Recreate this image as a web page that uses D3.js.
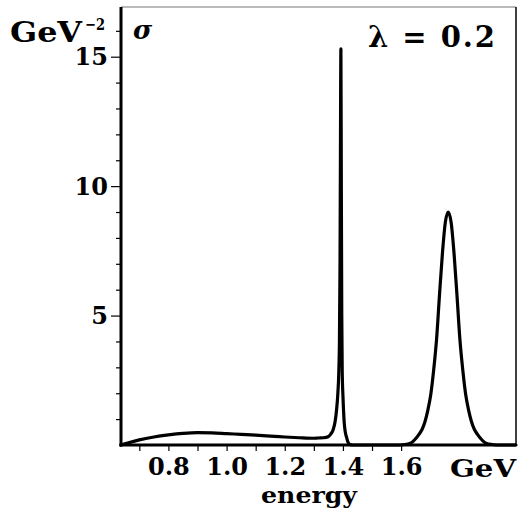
<!DOCTYPE html>
<html>
<head>
<meta charset="utf-8">
<script src="https://cdn.jsdelivr.net/npm/d3@7/dist/d3.min.js"></script>
<style>
  html, body { margin: 0; padding: 0; background: #fff; }
  svg { display: block; }
  text { font-family: "DejaVu Serif", "Liberation Serif", serif; font-weight: bold; fill: #000; }
</style>
</head>
<body>
<svg id="chart" width="518" height="515"></svg>
<script>
// ---- data ----
const energy = [
  0.637, 0.66, 0.70, 0.75, 0.80, 0.85, 0.90, 0.95, 1.00, 1.05, 1.10, 1.15, 1.20, 1.25, 1.30,
  1.315, 1.333, 1.349, 1.358, 1.366, 1.373, 1.378, 1.382, 1.386, 1.388, 1.390, 1.3915, 1.393,
  1.3945, 1.396, 1.3975, 1.400, 1.402, 1.4045, 1.407, 1.4095, 1.412, 1.417, 1.424, 1.433,
  1.50, 1.58, 1.612, 1.632, 1.642, 1.652, 1.662, 1.672, 1.682, 1.692, 1.702, 1.712, 1.722,
  1.732, 1.742, 1.752, 1.762, 1.772, 1.782, 1.792, 1.802, 1.812, 1.822, 1.832, 1.842, 1.852,
  1.862, 1.872, 1.882, 1.892, 1.912, 1.94, 1.995
];
const sigma = [
  0.00, 0.08, 0.20, 0.31, 0.39, 0.45, 0.48, 0.47, 0.44, 0.41, 0.38, 0.34, 0.31, 0.28, 0.26,
  0.27, 0.28, 0.32, 0.42, 0.58, 0.90, 1.35, 1.90, 2.90, 4.00, 7.00, 11.5, 15.3,
  10.0, 5.00, 2.90, 1.90, 1.35, 0.85, 0.58, 0.42, 0.32, 0.12, 0.02, 0.00,
  0.00, 0.00, 0.02, 0.07, 0.15, 0.27, 0.42, 0.60, 0.90, 1.35, 1.95, 2.90, 4.10,
  5.80, 7.40, 8.60, 9.00, 8.60, 7.40, 5.80, 4.10, 2.90, 1.95, 1.35, 0.90, 0.60,
  0.42, 0.27, 0.15, 0.07, 0.02, 0.00, 0.00
];
const xMajorTicks = [0.8, 1.0, 1.2, 1.4, 1.6];
const xMinorTicks = [0.7, 0.9, 1.1, 1.3, 1.5];
const yMajorTicks = [5, 10, 15];
const yMinorTicks = [1, 2, 3, 4, 6, 7, 8, 9, 11, 12, 13, 14, 16];
const xDomain = [0.637, 1.995];
const yDomain = [0, 16.92];

// ---- layout ----
const svg = d3.select("#chart");
const L = 121, R = 516, T = 7, B = 445;
const x = d3.scaleLinear().domain(xDomain).range([L, R]);
const y = d3.scaleLinear().domain(yDomain).range([B, T]);

// frame (top/right thin)
svg.append("line").attr("x1", L).attr("x2", R).attr("y1", T).attr("y2", T)
  .attr("stroke", "#777").attr("stroke-width", 1.2);
svg.append("line").attr("x1", R).attr("x2", R).attr("y1", T).attr("y2", B)
  .attr("stroke", "#000").attr("stroke-width", 1.5);

// x axis ticks
const gxMin = svg.append("g").attr("transform", `translate(0,${B})`)
  .call(d3.axisBottom(x).tickValues(xMinorTicks).tickSize(6).tickFormat(""));
const gx = svg.append("g").attr("transform", `translate(0,${B})`)
  .call(d3.axisBottom(x).tickValues(xMajorTicks).tickSize(6).tickFormat(d3.format(".1f")));
[gxMin, gx].forEach(g => { g.select(".domain").remove(); g.selectAll("line").attr("stroke", "#000").attr("stroke-width", 1.2); });
gx.selectAll("text").attr("y", 30).attr("dy", null)
  .style("font-size", "24px").style("font-family", '"DejaVu Serif", serif').style("font-weight", "bold");

// y axis ticks
const gyMin = svg.append("g").attr("transform", `translate(${L},0)`)
  .call(d3.axisLeft(y).tickValues(yMinorTicks).tickSize(5).tickFormat(""));
const gy = svg.append("g").attr("transform", `translate(${L},0)`)
  .call(d3.axisLeft(y).tickValues(yMajorTicks).tickSize(10).tickPadding(3).tickFormat(d3.format("d")));
[gyMin, gy].forEach(g => { g.select(".domain").remove(); g.selectAll("line").attr("stroke", "#000").attr("stroke-width", 1.2); });
gy.selectAll("text").attr("dy", "0.34em")
  .style("font-size", "24px").style("font-family", '"DejaVu Serif", serif').style("font-weight", "bold");

// main axes (thick)
svg.append("line").attr("x1", L).attr("x2", L).attr("y1", T).attr("y2", B + 1.5)
  .attr("stroke", "#000").attr("stroke-width", 3);
svg.append("line").attr("x1", L - 1.5).attr("x2", R).attr("y1", B).attr("y2", B)
  .attr("stroke", "#000").attr("stroke-width", 3);

// curve
const line = d3.line().x(i => x(energy[i])).y(i => y(sigma[i])).curve(d3.curveMonotoneX);
svg.append("path").attr("d", line(d3.range(energy.length)))
  .attr("fill", "none").attr("stroke", "#000").attr("stroke-width", 3.2)
  .attr("stroke-linejoin", "round").attr("stroke-linecap", "round");

// labels
svg.append("text").attr("x", 309).attr("y", 503).attr("text-anchor", "middle")
  .style("font-size", "23px").attr("textLength", 96).attr("lengthAdjust", "spacingAndGlyphs")
  .text("energy");
svg.append("text").attr("x", 450).attr("y", 477)
  .style("font-size", "25px").attr("textLength", 66).attr("lengthAdjust", "spacingAndGlyphs")
  .text("GeV");
svg.append("text").attr("x", 10).attr("y", 42).style("font-size", "27px")
  .attr("textLength", 72).attr("lengthAdjust", "spacingAndGlyphs").text("GeV");
svg.append("text").attr("x", 85).attr("y", 30).style("font-size", "17px")
  .attr("textLength", 20).attr("lengthAdjust", "spacingAndGlyphs").text("\u22122");
svg.append("text").attr("x", 133).attr("y", 39).style("font-size", "26px")
  .style("font-style", "italic").text("\u03C3");
svg.append("text").attr("x", 368).attr("y", 47).style("font-size", "29px")
  .attr("textLength", 127).attr("lengthAdjust", "spacing")
  .text("\u03BB = 0.2");
</script>
</body>
</html>
